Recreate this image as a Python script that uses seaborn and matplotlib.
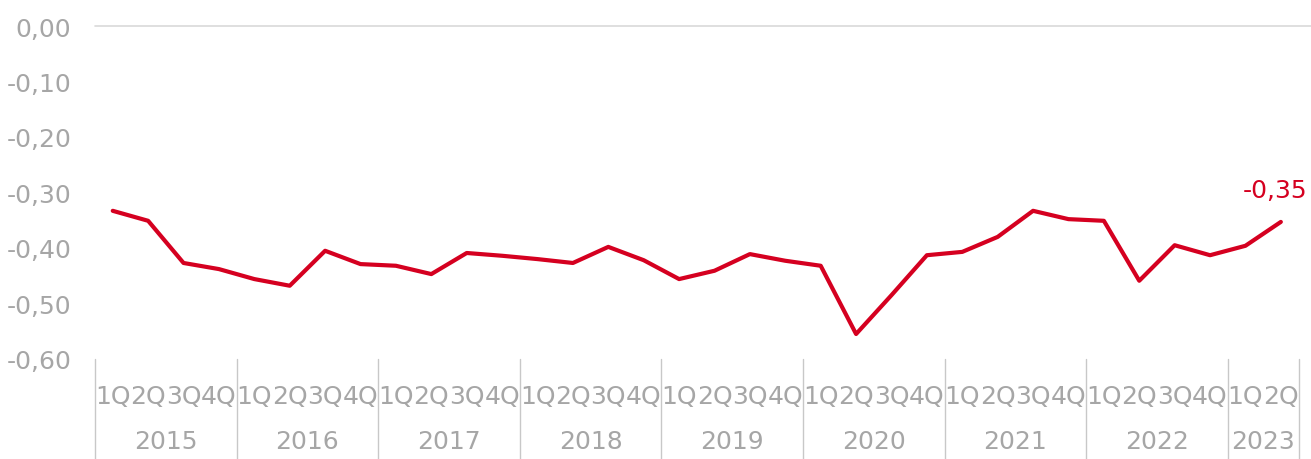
import pandas as pd
import matplotlib.pyplot as plt
import matplotlib.transforms as mtransforms
import seaborn as sns

# data
years = ["2015", "2016", "2017", "2018", "2019", "2020", "2021", "2022", "2023"]
quarters_per_year = [4, 4, 4, 4, 4, 4, 4, 4, 2]
values = [
    -0.333, -0.351, -0.427, -0.438,   # 2015
    -0.456, -0.468, -0.405, -0.429,   # 2016
    -0.432, -0.447, -0.409, -0.414,   # 2017
    -0.420, -0.427, -0.398, -0.422,   # 2018
    -0.456, -0.441, -0.411, -0.423,   # 2019
    -0.432, -0.555, -0.485, -0.413,   # 2020
    -0.407, -0.380, -0.333, -0.348,   # 2021
    -0.351, -0.459, -0.395, -0.413,   # 2022
    -0.396, -0.353,                   # 2023
]
last_label = "-0,35"

RED = "#D50020"
GREY = "#A6A6A6"


def build_frame():
    quarters, year_col = [], []
    for y, n in zip(years, quarters_per_year):
        for q in range(1, n + 1):
            quarters.append(f"{q}Q")
            year_col.append(y)
    return pd.DataFrame({"idx": range(len(values)), "quarter": quarters,
                         "year": year_col, "value": values})


def main():
    df = build_frame()
    sns.set_style("white")
    plt.rcParams["font.family"] = ["DejaVu Sans"]

    fig = plt.figure(figsize=(13.11, 4.6), dpi=100)
    ax = fig.add_axes([0.0725, 0.2174, 0.9905 - 0.0725, 0.9413 - 0.2174])

    sns.lineplot(data=df, x="idx", y="value", color=RED, linewidth=3, ax=ax)

    n = len(df)
    ax.set_xlim(-0.5, n - 0.5)
    ax.set_ylim(-0.60, 0.0)
    ax.set_yticks([-0.6, -0.5, -0.4, -0.3, -0.2, -0.1, 0.0])
    ax.set_yticklabels([f"{t:.2f}".replace(".", ",") for t in ax.get_yticks()],
                       color=GREY, fontsize=18)
    ax.tick_params(axis="y", length=0, pad=17)
    ax.set_xticks([])
    ax.set_xlabel("")
    ax.set_ylabel("")
    for s in ax.spines.values():
        s.set_visible(False)
    ax.axhline(0.0, color="#D9D9D9", linewidth=1.2, xmax=1.01, clip_on=False)

    # quarter and year labels below the axis
    trans = mtransforms.blended_transform_factory(ax.transData, ax.transAxes)
    for _, row in df.iterrows():
        ax.text(row["idx"], -0.11, row["quarter"], transform=trans,
                ha="center", va="center", color=GREY, fontsize=18)
    start = 0
    bounds = [-0.5]
    for y, k in zip(years, quarters_per_year):
        mid = start + (k - 1) / 2
        ax.text(mid, -0.245, y, transform=trans, ha="center", va="center",
                color=GREY, fontsize=18)
        start += k
        bounds.append(start - 0.5)
    for b in bounds:
        ax.plot([b, b], [0, -0.31], transform=trans, color="#C8C8C8",
                linewidth=1, clip_on=False)

    # label on the last point
    ax.annotate(last_label, (df["idx"].iloc[-1], df["value"].iloc[-1]),
                xytext=(-4, 14), textcoords="offset points", ha="center",
                va="bottom", color=RED, fontsize=18)

    fig.savefig("out.png", dpi=100)


if __name__ == "__main__":
    main()
